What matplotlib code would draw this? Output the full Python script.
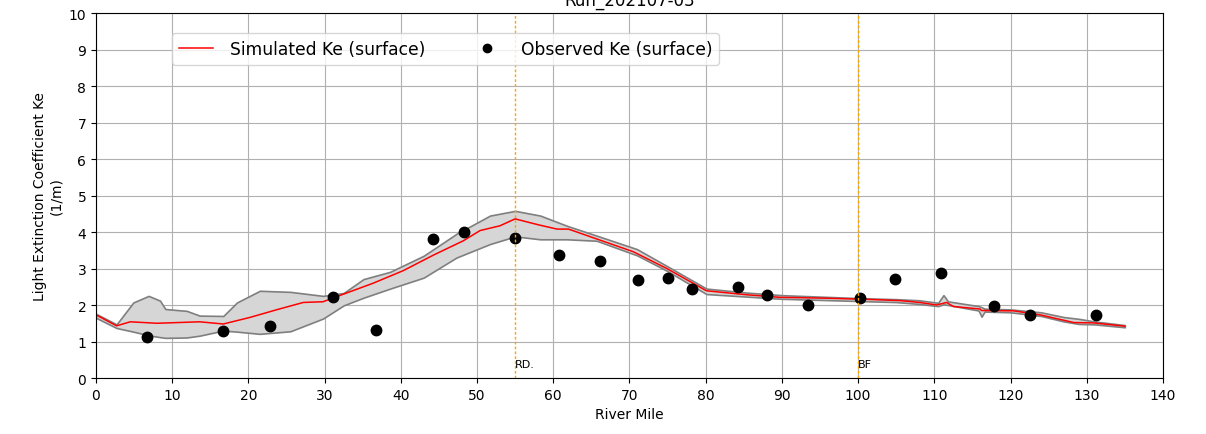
import matplotlib
matplotlib.use('Agg')
import matplotlib.pyplot as plt

# simulated Ke along the river (surface)
sim_mile = [0, 2.7, 4.5, 8, 13.6, 16.7, 20.2, 23.7, 27.2, 29.8, 32.5, 36.4, 40.3, 44.3, 48.2,
            50.4, 53.0, 55.0, 58.0, 60.5, 62.0, 65.7, 70.5, 74.9, 80.1, 85.4, 89.8, 95, 100.5,
            105.5, 108.1, 110.3, 111.6, 112.5, 116.0, 116.2, 120.4, 123.9, 128.3, 130.9, 135.0]
sim_ke = [1.73, 1.43, 1.54, 1.50, 1.54, 1.48, 1.66, 1.87, 2.07, 2.09, 2.30, 2.60, 2.94, 3.37, 3.76,
          4.04, 4.17, 4.36, 4.20, 4.08, 4.08, 3.81, 3.46, 3.00, 2.39, 2.28, 2.21, 2.19, 2.16,
          2.12, 2.07, 2.00, 2.07, 1.96, 1.89, 1.85, 1.84, 1.73, 1.52, 1.51, 1.42]

# min / max envelope
band_mile = [0, 2.7, 4.9, 6.9, 8.4, 9.1, 11.9, 13.6, 16.7, 18.5, 21.5, 25.5, 29.8, 32.5, 35.1,
             38.6, 43.0, 47.3, 51.7, 55.0, 58.3, 61.8, 65.7, 71.0, 74.9, 80.1, 85.4, 90, 100,
             105, 108, 110.5, 111.2, 111.8, 115.8, 116.2, 116.6, 120, 124, 127, 129, 131, 135]
band_hi = [1.76, 1.47, 2.07, 2.25, 2.12, 1.89, 1.84, 1.71, 1.70, 2.07, 2.39, 2.36, 2.25, 2.33, 2.71,
           2.91, 3.35, 3.95, 4.45, 4.58, 4.45, 4.17, 3.90, 3.53, 3.07, 2.45, 2.34, 2.27, 2.19,
           2.16, 2.13, 2.06, 2.27, 2.10, 1.97, 1.94, 1.90, 1.88, 1.80, 1.67, 1.62, 1.55, 1.45]
band_lo = [1.65, 1.37, 1.27, 1.17, 1.12, 1.10, 1.11, 1.16, 1.30, 1.27, 1.21, 1.28, 1.63, 1.99, 2.20,
           2.45, 2.75, 3.30, 3.67, 3.88, 3.80, 3.80, 3.76, 3.36, 2.94, 2.30, 2.23, 2.17, 2.11,
           2.08, 2.03, 1.97, 2.02, 2.00, 1.85, 1.68, 1.82, 1.80, 1.70, 1.55, 1.48, 1.47, 1.39]

# observations
obs_mile = [6.7, 16.7, 22.8, 31.1, 36.7, 44.2, 48.3, 55.0, 60.8, 66.1, 71.1, 75.1, 78.2, 84.3,
            88.1, 93.4, 100.3, 104.9, 110.9, 117.8, 122.6, 131.2]
obs_ke = [1.12, 1.29, 1.42, 2.22, 1.32, 3.81, 4.00, 3.84, 3.37, 3.21, 2.68, 2.74, 2.44, 2.49,
          2.27, 2.00, 2.19, 2.71, 2.88, 1.97, 1.73, 1.73]

# reference locations
ref_mile = [55, 100]
ref_name = ['RD.', 'BF']

fig = plt.figure(figsize=(12.06, 4.35), dpi=100)
ax = fig.add_axes([0.0796, 0.1287, 0.8847, 0.8391])

ax.fill_between(band_mile, band_lo, band_hi, facecolor='#d6d6d6', edgecolor='#7f7f7f', linewidth=1.2)
ax.plot(sim_mile, sim_ke, color='red', linewidth=1.1, label='Simulated Ke (surface)')
ax.plot(obs_mile, obs_ke, 'o', color='black', markersize=7.5, label='Observed Ke (surface)')

for m, n in zip(ref_mile, ref_name):
    ax.axvline(m, color='orange', linestyle=(0, (2, 1.5)), linewidth=1.0)
    ax.text(m, 0.3, n, fontsize=8)

ax.set_xlim(0, 140)
ax.set_ylim(0, 10)
ax.set_xticks(range(0, 141, 10))
ax.set_yticks(range(0, 11))
ax.grid(True)
ax.set_axisbelow(True)
ax.set_xlabel('River Mile')
ax.set_ylabel('Light Extinction Coefficient Ke\n(1/m)', multialignment='center')
ax.set_title('Run_202107-03')
ax.legend(loc='upper left', bbox_to_anchor=(0.071, 0.945), borderaxespad=0, ncol=2,
          columnspacing=2.6, handletextpad=1.0, markerscale=0.8, fontsize=12.3)

fig.savefig('out.png', dpi=100)
